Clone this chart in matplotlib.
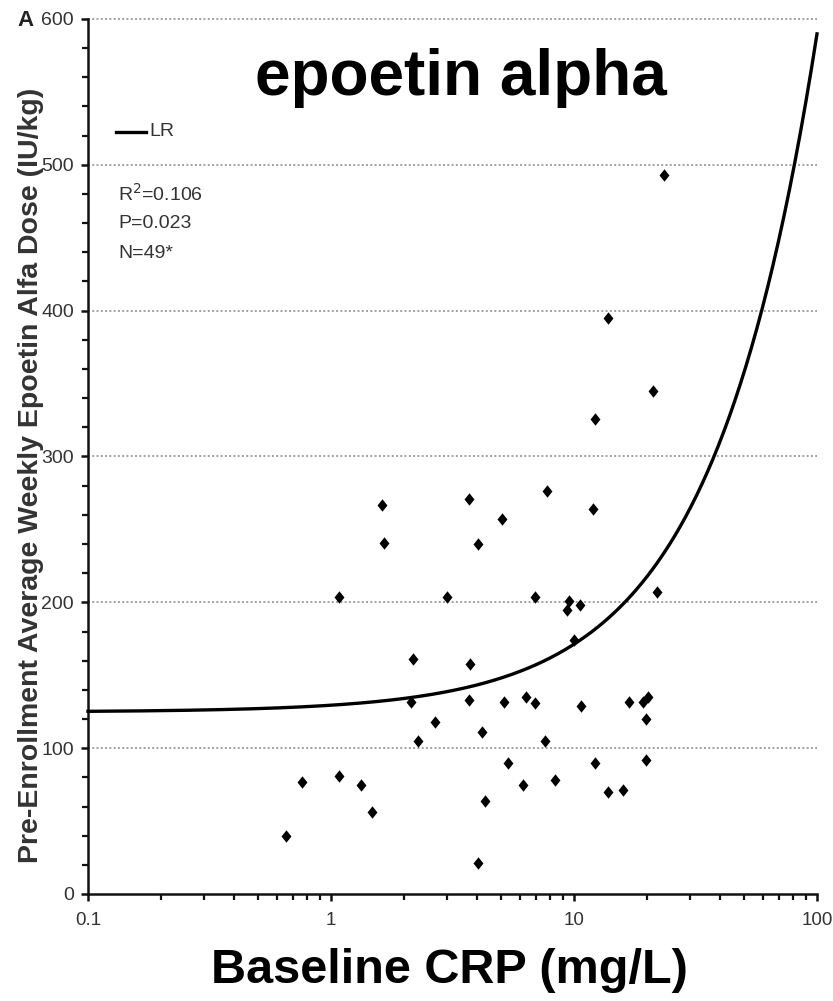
import numpy as np
import matplotlib
matplotlib.use("Agg")
import matplotlib.pyplot as plt
from matplotlib.path import Path
from matplotlib.ticker import FixedLocator, LogLocator, NullFormatter

# Baseline CRP (mg/L) and pre-enrollment weekly epoetin alfa dose (IU/kg)
crp = [0.65, 0.76, 1.08, 1.08, 1.33, 1.48, 1.62, 1.66, 2.14, 2.18,
       2.27, 2.69, 3.00, 3.68, 3.69, 3.75, 4.01, 4.04, 4.18, 4.31,
       5.05, 5.17, 5.33, 6.16, 6.36, 6.88, 6.94, 7.59, 7.77, 8.34,
       9.33, 9.51, 9.97, 10.55, 10.7, 12.0, 12.2, 12.2, 13.8, 13.8,
       15.9, 16.9, 19.2, 19.7, 19.7, 20.1, 21.2, 22.0, 23.5]
dose = [40, 77, 81, 204, 75, 56, 267, 241, 132, 161,
        105, 118, 204, 271, 133, 158, 240, 21, 111, 64,
        257, 132, 90, 75, 135, 204, 131, 105, 276, 78,
        195, 201, 174, 198, 129, 264, 326, 90, 395, 70,
        71, 132, 132, 120, 92, 135, 345, 207, 493]

# Linear regression (dose vs CRP on a linear scale)
lr_intercept = 124.8
lr_slope = 4.65
stats_lines = ["R$^2$=0.106", "P=0.023", "N=49*"]

x_ticks = [0.1, 1, 10, 100]
x_ticklabels = ["0.1", "1", "10", "100"]
y_ticks = [0, 100, 200, 300, 400, 500, 600]

plt.rcParams["font.family"] = ["Liberation Sans", "DejaVu Sans"]

fig = plt.figure(figsize=(8.33, 10.01), dpi=100)
W, H = 833, 1001
ax = fig.add_axes([88 / W, 1 - 894 / H, (817 - 88) / W, (894 - 19) / H])

ax.set_xscale("log")
ax.set_xlim(0.1, 100)
ax.set_ylim(0, 600)

# horizontal dotted grid
for yv in y_ticks[1:]:
    ax.axhline(yv, color="#a0a0a0", lw=1.4, ls=(0, (1, 1.2)), zorder=0, clip_on=False)

# regression curve
xs = np.logspace(-1, 2, 400)
ax.plot(xs, lr_intercept + lr_slope * xs, color="black", lw=2.4, zorder=3,
        clip_on=False)

# data points
diamond = Path([(0, 1), (0.8, 0), (0, -1), (-0.8, 0), (0, 1)],
               [Path.MOVETO, Path.LINETO, Path.LINETO, Path.LINETO, Path.CLOSEPOLY])
ax.scatter(crp, dose, marker=diamond, s=80, color="black", linewidths=0, zorder=4)

# axes styling
for side in ("top", "right"):
    ax.spines[side].set_visible(False)
for side in ("left", "bottom"):
    ax.spines[side].set_linewidth(1.8)
    ax.spines[side].set_color("#111111")

ax.xaxis.set_major_locator(FixedLocator(x_ticks))
ax.set_xticklabels(x_ticklabels)
ax.xaxis.set_minor_locator(LogLocator(base=10, subs=np.arange(2, 10)))
ax.xaxis.set_minor_formatter(NullFormatter())
ax.yaxis.set_major_locator(FixedLocator(y_ticks))
ax.yaxis.set_minor_locator(FixedLocator(np.arange(0, 601, 20)))

ax.tick_params(axis="both", which="major", direction="out", length=5, width=1.8,
               color="#111111", labelcolor="#333333")
ax.tick_params(axis="both", which="minor", direction="out", length=4, width=1.6,
               color="#111111")
ax.tick_params(axis="x", which="major", pad=8, labelsize=13.5)
ax.tick_params(axis="y", which="major", pad=5, labelsize=14)

# legend and statistics
fig.add_artist(plt.Line2D([116 / W, 146 / W], [1 - 132 / H, 1 - 132 / H],
                          color="black", lw=2.4))
fig.text(149 / W, 1 - 132 / H, "LR", fontsize=14, color="#333333", va="center")
for i, s in enumerate(stats_lines):
    fig.text(118 / W, 1 - (194 + 29.5 * i) / H, s, fontsize=14, color="#333333",
             va="center")

# panel letter, title and axis labels
fig.text(17 / W, 1 - 21 / H, "A", fontsize=16, fontweight="bold", color="#222222",
         va="center")
fig.text(461 / W, 1 - 95 / H, "epoetin alpha", fontsize=46, fontweight="bold",
         color="black", ha="center", va="baseline")
fig.text(449 / W, 1 - 983 / H, "Baseline CRP (mg/L)", fontsize=35,
         fontweight="bold", color="black", ha="center", va="baseline")
fig.text(31 / W, 1 - 475 / H,
         "Pre-Enrollment Average Weekly Epoetin Alfa Dose (IU/kg)",
         fontsize=20.5, fontweight="bold", color="#333333", rotation=90,
         ha="center", va="center")

fig.savefig("out.png", dpi=100, facecolor="white")
